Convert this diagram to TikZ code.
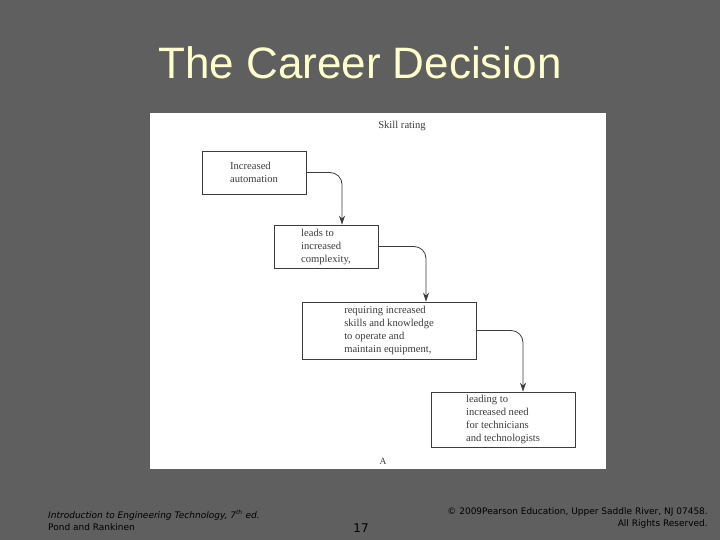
\documentclass[tikz,border=0pt]{standalone}
\usepackage{fontspec}
\setmainfont{Liberation Serif}
\newfontfamily\slidefont{Liberation Sans}
\newfontfamily\footfont{DejaVu Sans}
\usetikzlibrary{arrows.meta}
\definecolor{slidebg}{RGB}{95,95,95}
\definecolor{titlecol}{RGB}{255,255,204}
\definecolor{inkgrey}{RGB}{60,60,60}
\tikzset{
  box/.style={draw=inkgrey, line width=0.6pt, fill=white, align=left,
    text=inkgrey, font=\fontsize{10.6}{13}\selectfont, inner sep=0pt},
  flow/.style={draw=inkgrey, line width=0.8pt, rounded corners=12pt,
    -{Stealth[length=9pt,width=6pt]}},
  foot/.style={font=\footfont\fontsize{9}{12}\selectfont, text=black, inner sep=0pt}
}
\begin{document}
\begin{tikzpicture}[x=1pt,y=-1pt]
  \fill[slidebg] (0,0) rectangle (720,540);
  \useasboundingbox (0,0) rectangle (720,540);
  \node[text=titlecol, font=\slidefont\fontsize{44}{50}\selectfont] (title) at (360,63) {The Career Decision};
  \fill[white] (150,113) rectangle (606,469);
  \node[text=inkgrey, font=\fontsize{10.6}{12}\selectfont] (rating) at (402,126) {Skill rating};
  \node[box, minimum width=104pt, minimum height=43pt] (b1) at (254,172.5) {Increased\\automation};
  \node[box, minimum width=104pt, minimum height=43pt] (b2) at (326,246.5) {leads to\\increased\\complexity,};
  \node[box, minimum width=174pt, minimum height=57pt] (b3) at (389,330.5) {requiring increased\\skills and knowledge\\to operate and\\maintain equipment,};
  \node[box, minimum width=144pt, minimum height=55pt] (b4) at (503,419.5) {leading to\\increased need\\for technicians\\and technologists};
  \node[text=inkgrey, font=\fontsize{9.5}{11}\selectfont] (fig) at (383,461) {A};
  \draw[flow] (b1.east) -| ([xshift=16pt]b2.north);
  \draw[flow] (b2.east) -| ([xshift=37pt]b3.north);
  \draw[flow] (b3.east) -| ([xshift=20pt]b4.north);
  % footer
  \node[foot, anchor=west, align=left] (book) at (48,520) {\itshape Introduction to Engineering Technology, 7\textsuperscript{th} ed.\\Pond and Rankinen};
  \node[foot, font=\footfont\fontsize{12}{14}\selectfont] (page) at (361,528) {17};
  \node[foot, anchor=east, align=right] (copy) at (708,518) {\textcopyright\ 2009Pearson Education, Upper Saddle River, NJ 07458.\\All Rights Reserved.};
\end{tikzpicture}
\end{document}
